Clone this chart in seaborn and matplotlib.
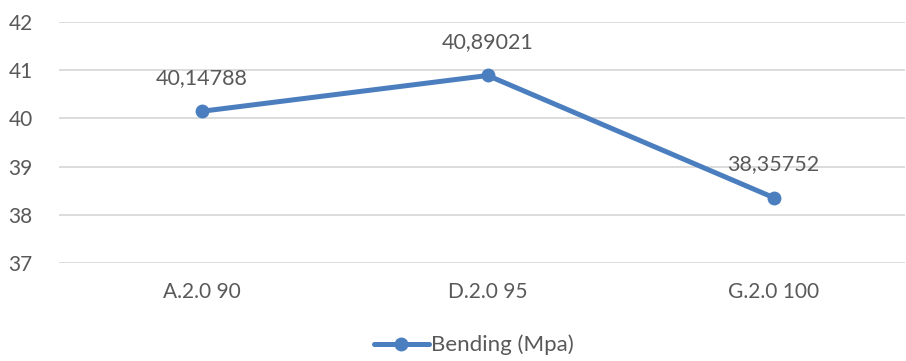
import pandas as pd
import seaborn as sns
import matplotlib.pyplot as plt

# chart data
samples = ['A.2.0 90', 'D.2.0 95', 'G.2.0 100']
bending = [40.14788, 40.89021, 38.35752]
labels = ['40,14788', '40,89021', '38,35752']

df = pd.DataFrame({'Sample': samples, 'Bending (Mpa)': bending})

sns.set_style('white')
plt.rcParams['font.family'] = ['Lato', 'DejaVu Sans']

blue = '#4A7EBF'
grey = '#595959'

fig = plt.figure(figsize=(9.06, 3.61), dpi=100)
ax = fig.add_axes([59 / 906, 1 - 263 / 361, (905 - 59) / 906, (263 - 22) / 361])

sns.lineplot(data=df, x='Sample', y='Bending (Mpa)', ax=ax, color=blue,
             linewidth=3.6, marker='o', markersize=10, markeredgewidth=0,
             label='Bending (Mpa)', sort=False)

for i, (v, t) in enumerate(zip(bending, labels)):
    ax.annotate(t, (i, v), xytext=(0, 24), textcoords='offset points',
                ha='center', va='center', fontsize=15.5, color=grey)

ax.set_ylim(37, 42)
ax.set_yticks([37, 38, 39, 40, 41, 42])
ax.set_xlim(-0.5, 2.46)
ax.grid(axis='y', color='#D9D9D9', linewidth=1.3)
ax.set_axisbelow(True)
for s in ax.spines.values():
    s.set_visible(False)
ax.tick_params(axis='both', length=0, labelsize=15, labelcolor=grey)
ax.tick_params(axis='y', pad=19)
ax.tick_params(axis='x', pad=14)
ax.set_xlabel('')
ax.set_ylabel('')

handles, lbls = ax.get_legend_handles_labels()
ax.get_legend().remove()
fig.legend(handles, lbls, loc='lower center', bbox_to_anchor=(0.523, -0.04),
           frameon=False, fontsize=16, labelcolor=grey, handlelength=2.5,
           handletextpad=0.1)

fig.savefig('out.png', dpi=100)
